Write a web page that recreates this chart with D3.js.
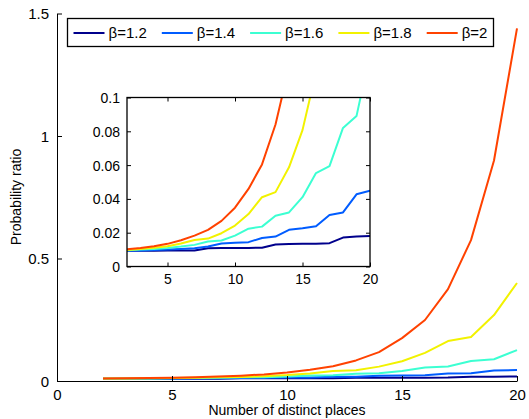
<!DOCTYPE html>
<html>
<head>
<meta charset="utf-8">
<script src="https://cdn.jsdelivr.net/npm/d3@7"></script>
<style>
  body { margin: 0; background: #fff; }
  svg { display: block; font-family: "Liberation Sans", Arial, sans-serif; }
  text { fill: #000; }
</style>
</head>
<body>
<svg id="chart" width="529" height="419"></svg>
<script>
// number of distinct places
var places = [2, 3, 4, 5, 6, 7, 8, 9, 10, 11, 12, 13, 14, 15, 16, 17, 18, 19, 20];

var betas = ["β=1.2", "β=1.4", "β=1.6", "β=1.8", "β=2"];
var colors = ["#00008c", "#005cff", "#3cffd2", "#f2f200", "#ff4200"];

// probability ratio, one array per beta
var beta12 = [0.0093, 0.0093, 0.0093, 0.0094, 0.0094, 0.0095, 0.0108, 0.0109, 0.0109, 0.0110, 0.0111, 0.0130, 0.0133, 0.0134, 0.0135, 0.0138, 0.0171, 0.0177, 0.0181];
var beta14 = [0.0093, 0.0095, 0.0097, 0.0100, 0.0104, 0.0108, 0.0118, 0.0136, 0.0140, 0.0144, 0.0169, 0.0177, 0.0217, 0.0226, 0.0238, 0.0305, 0.0320, 0.0427, 0.0449];
var beta16 = [0.0096, 0.0100, 0.0104, 0.0110, 0.0118, 0.0128, 0.0148, 0.0154, 0.0183, 0.0224, 0.0236, 0.0300, 0.0320, 0.0410, 0.0553, 0.0594, 0.0820, 0.0890, 0.126];
var beta18 = [0.0098, 0.0104, 0.0111, 0.0120, 0.0136, 0.0157, 0.0165, 0.0197, 0.0242, 0.0310, 0.0410, 0.0440, 0.0587, 0.0807, 0.115, 0.163, 0.180, 0.269, 0.400];
var beta2 = [0.0102, 0.0110, 0.0120, 0.0134, 0.0155, 0.0183, 0.0217, 0.0270, 0.0348, 0.0459, 0.0604, 0.0840, 0.118, 0.175, 0.249, 0.375, 0.575, 0.900, 1.439];

var series = [beta12, beta14, beta16, beta18, beta2];

var xTicks = [0, 5, 10, 15, 20];
var yTicks = [0, 0.5, 1, 1.5];
var insetXTicks = [5, 10, 15, 20];
var insetYTicks = [0, 0.02, 0.04, 0.06, 0.08, 0.1];

var svg = d3.select("#chart");

// ---- main axes
var x = d3.scaleLinear().domain([0, 20]).range([57, 517]);
var y = d3.scaleLinear().domain([0, 1.5]).range([381, 13.5]);

var line = d3.line()
  .x(function (d, i) { return x(places[i]); })
  .y(function (d) { return y(d); });

var main = svg.append("g");

main.selectAll("path.series")
  .data(series)
  .enter()
  .append("path")
  .attr("class", "series")
  .attr("d", line)
  .attr("fill", "none")
  .attr("stroke", function (d, i) { return colors[i]; })
  .attr("stroke-width", 2)
  .attr("stroke-linejoin", "round");

var xAxis = main.append("g")
  .attr("transform", "translate(0," + y(0) + ")")
  .call(d3.axisBottom(x).tickValues(xTicks).tickSizeInner(-5).tickSizeOuter(0).tickPadding(8).tickFormat(d3.format("")));

var yAxis = main.append("g")
  .attr("transform", "translate(" + x(0) + ",0)")
  .call(d3.axisLeft(y).tickValues(yTicks).tickSizeInner(-5).tickSizeOuter(0).tickPadding(8).tickFormat(d3.format("")));

[xAxis, yAxis].forEach(function (a) {
  a.selectAll("text").style("font-size", "15px").style("font-family", "Liberation Sans, Arial, sans-serif");
  a.selectAll("line,path").attr("stroke", "#000");
});
yAxis.selectAll("text").attr("dy", "0.35em");

main.append("text")
  .attr("x", 287)
  .attr("y", 415)
  .attr("text-anchor", "middle")
  .style("font-size", "14px")
  .text("Number of distinct places");

main.append("text")
  .attr("transform", "translate(21," + 197 + ") rotate(-90)")
  .attr("text-anchor", "middle")
  .style("font-size", "14px")
  .text("Probability ratio");

// ---- inset
var ix = d3.scaleLinear().domain([2, 20]).range([127, 370]);
var iy = d3.scaleLinear().domain([0, 0.1]).range([266.5, 97.5]);

var inset = svg.append("g");

inset.append("rect")
  .attr("x", ix(2)).attr("y", iy(0.1))
  .attr("width", ix(20) - ix(2)).attr("height", iy(0) - iy(0.1))
  .attr("fill", "#fff");

inset.append("clipPath").attr("id", "insetClip")
  .append("rect")
  .attr("x", ix(2)).attr("y", iy(0.1))
  .attr("width", ix(20) - ix(2)).attr("height", iy(0) - iy(0.1));

var iline = d3.line()
  .x(function (d, i) { return ix(places[i]); })
  .y(function (d) { return iy(d); });

inset.append("g").attr("clip-path", "url(#insetClip)")
  .selectAll("path")
  .data(series)
  .enter()
  .append("path")
  .attr("d", iline)
  .attr("fill", "none")
  .attr("stroke", function (d, i) { return colors[i]; })
  .attr("stroke-width", 2)
  .attr("stroke-linejoin", "round");

var ixb = inset.append("g").attr("transform", "translate(0," + iy(0) + ")")
  .call(d3.axisBottom(ix).tickValues(insetXTicks).tickSizeInner(-4).tickSizeOuter(0).tickPadding(8).tickFormat(d3.format("")));
var ixt = inset.append("g").attr("transform", "translate(0," + iy(0.1) + ")")
  .call(d3.axisTop(ix).tickValues(insetXTicks).tickSizeInner(-4).tickSizeOuter(0).tickFormat(""));
var iyl = inset.append("g").attr("transform", "translate(" + ix(2) + ",0)")
  .call(d3.axisLeft(iy).tickValues(insetYTicks).tickSizeInner(-4).tickSizeOuter(0).tickPadding(7).tickFormat(d3.format("")));
var iyr = inset.append("g").attr("transform", "translate(" + ix(20) + ",0)")
  .call(d3.axisRight(iy).tickValues(insetYTicks).tickSizeInner(-4).tickSizeOuter(0).tickFormat(""));

[ixb, ixt, iyl, iyr].forEach(function (a) {
  a.selectAll("text").style("font-size", "14px").style("font-family", "Liberation Sans, Arial, sans-serif");
  a.selectAll("line").attr("stroke", "#000");
  a.select("path.domain").remove();
});
iyl.selectAll("text").attr("dy", "0.35em");

inset.append("rect")
  .attr("x", ix(2)).attr("y", iy(0.1))
  .attr("width", ix(20) - ix(2)).attr("height", iy(0) - iy(0.1))
  .attr("fill", "none")
  .attr("stroke", "#000")
  .attr("stroke-width", 1.3);

// ---- legend
var legend = svg.append("g");
legend.append("rect")
  .attr("x", 67.5).attr("y", 18.5)
  .attr("width", 426).attr("height", 28)
  .attr("fill", "#fff")
  .attr("stroke", "#000")
  .attr("stroke-width", 1.3);

var entries = legend.selectAll("g.entry")
  .data(betas)
  .enter()
  .append("g")
  .attr("class", "entry")
  .attr("transform", function (d, i) { return "translate(" + (73.5 + i * 88.3) + ",33)"; });

entries.append("line")
  .attr("x1", 0).attr("x2", 31)
  .attr("y1", 0).attr("y2", 0)
  .attr("stroke", function (d, i) { return colors[i]; })
  .attr("stroke-width", 2);

entries.append("text")
  .attr("x", 35)
  .attr("dy", "0.35em")
  .style("font-size", "15px")
  .text(function (d) { return d; });
</script>
</body>
</html>
